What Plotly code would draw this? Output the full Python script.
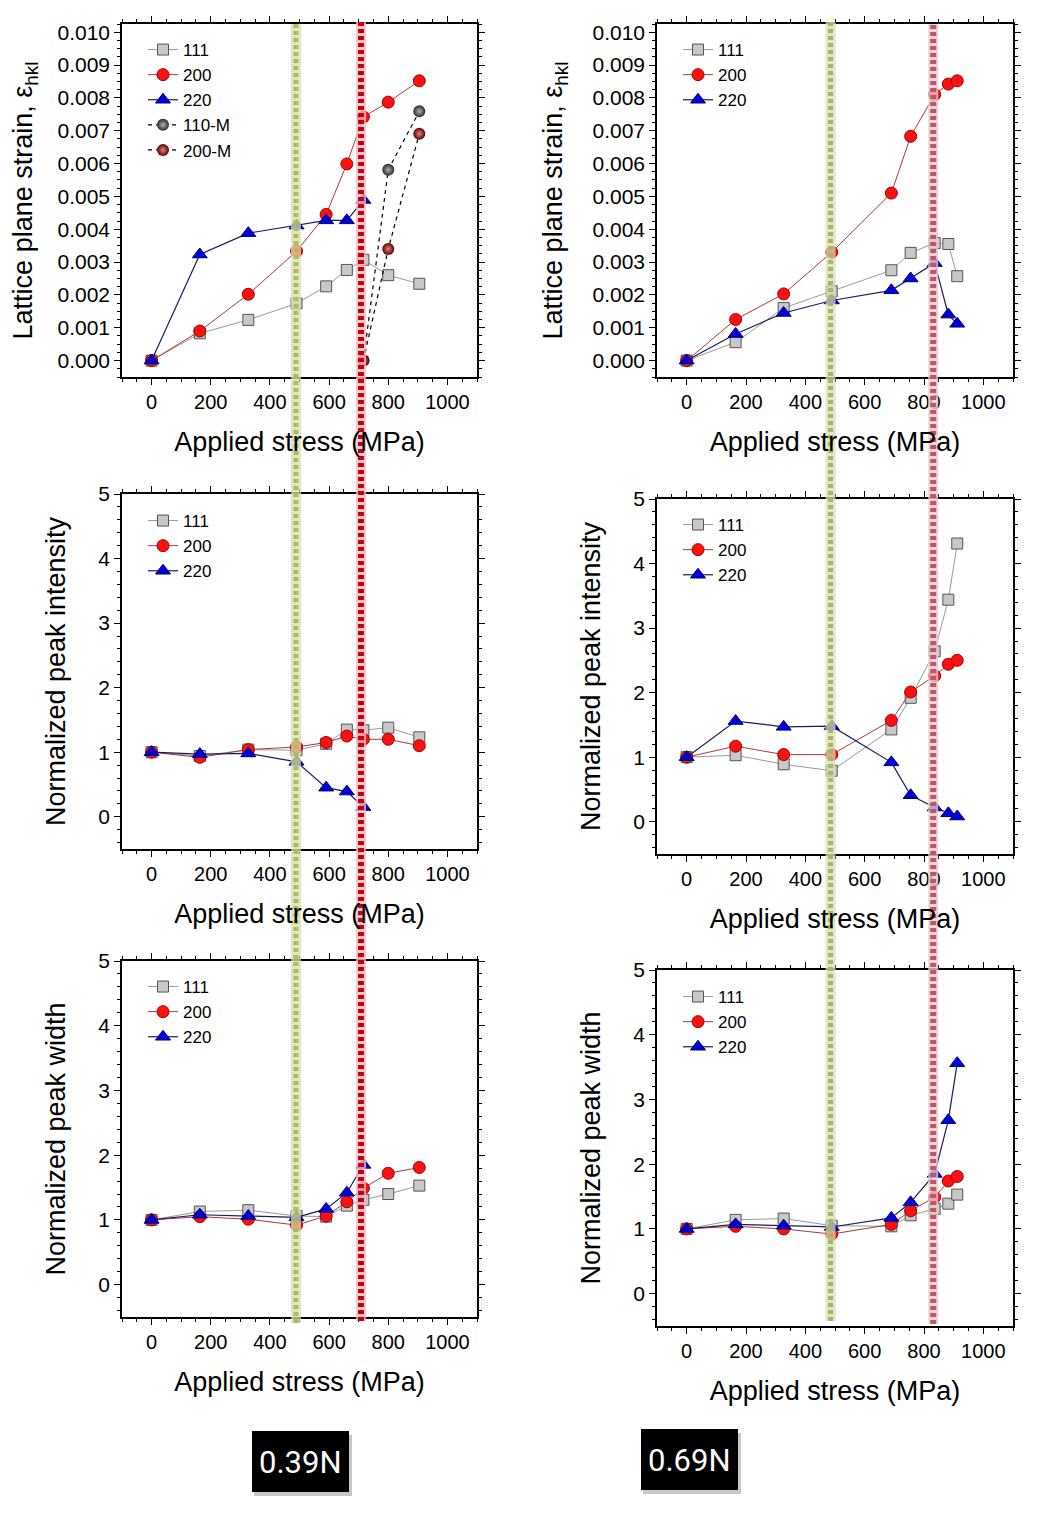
import plotly.graph_objects as go

W, H = 1051, 1520
OFF = 8  # page body margin of the html page (px)

# ---------------- data ----------------
stress_039 = [0, 163, 327, 490, 590, 660, 716, 800, 905]
stress_M_039 = [716, 800, 905]

strain_111_039 = [0, 0.00083, 0.00124, 0.00174, 0.00226, 0.00276, 0.00307, 0.00260, 0.00234]
strain_200_039 = [0, 0.00090, 0.00202, 0.00333, 0.00445, 0.00599, 0.00742, 0.00787, 0.00852]
strain_220_039 = [0, 0.00323, 0.00388, 0.00411, 0.00427, 0.00427, 0.00489]
strain_110M_039 = [0, 0.00581, 0.00759]
strain_200M_039 = [0, 0.00340, 0.00691]

int_111_039 = [1.0, 0.94, 1.04, 1.03, 1.13, 1.35, 1.34, 1.38, 1.23]
int_200_039 = [1.0, 0.92, 1.04, 1.08, 1.15, 1.25, 1.20, 1.20, 1.10]
int_220_039 = [1.0, 0.97, 0.98, 0.85, 0.45, 0.39, 0.15]

wid_111_039 = [1.0, 1.13, 1.15, 1.06, 1.05, 1.22, 1.31, 1.40, 1.53]
wid_200_039 = [1.0, 1.05, 1.01, 0.92, 1.06, 1.28, 1.49, 1.72, 1.81]
wid_220_039 = [1.0, 1.08, 1.06, 1.04, 1.17, 1.42, 1.85]

stress_069 = [0, 165, 327, 489, 690, 755, 836, 882, 912]

strain_111_069 = [0, 0.00056, 0.00160, 0.00211, 0.00275, 0.00328, 0.00358, 0.00355, 0.00257]
strain_200_069 = [0, 0.00125, 0.00203, 0.00330, 0.00510, 0.00683, 0.00810, 0.00842, 0.00852]
strain_220_069 = [0, 0.00081, 0.00145, 0.00183, 0.00214, 0.00250, 0.00297, 0.00140, 0.00112]

int_111_069 = [1.0, 1.03, 0.89, 0.79, 1.43, 1.92, 2.64, 3.44, 4.31]
int_200_069 = [1.0, 1.17, 1.04, 1.04, 1.57, 2.01, 2.26, 2.44, 2.50]
int_220_069 = [1.0, 1.56, 1.47, 1.48, 0.92, 0.41, 0.22, 0.13, 0.08]

wid_111_069 = [1.0, 1.14, 1.16, 1.05, 1.04, 1.21, 1.31, 1.39, 1.53]
wid_200_069 = [1.0, 1.04, 1.00, 0.92, 1.07, 1.28, 1.49, 1.74, 1.81]
wid_220_069 = [1.0, 1.07, 1.05, 1.03, 1.17, 1.41, 1.85, 2.68, 3.56]

guide_039 = [488, 708]   # green, red guide lines (MPa)
guide_069 = [485, 831]
sample_labels = ["0.39N", "0.69N"]
series_names = ["111", "200", "220", "110-M", "200-M"]

FONT = "Liberation Sans, Arial, sans-serif"

# ---------------- styles ----------------
S111 = dict(marker=dict(symbol="square", size=11, color="#c8c8c8", line=dict(color="#555555", width=1)),
            line=dict(color="#9a9a9a", width=1))
S200 = dict(marker=dict(symbol="circle", size=12, color="#ff1010", line=dict(color="#a00000", width=1)),
            line=dict(color="#b03838", width=1))
S220 = dict(marker=dict(symbol="triangle-up", size=13, color="#0000dd", line=dict(color="#000070", width=1)),
            line=dict(color="#1c1c5c", width=1.2))
S110M = dict(marker=dict(symbol="circle", size=12, color="#2a2a2a",
                         gradient=dict(type="radial", color="#b0b0b0"), line=dict(width=0)),
             line=dict(color="black", width=1.2, dash="4px,4px"))
S200M = dict(marker=dict(symbol="circle", size=12, color="#5a0000",
                         gradient=dict(type="radial", color="#e88080"), line=dict(width=0)),
             line=dict(color="black", width=1.2, dash="4px,4px"))

fig = go.Figure()


def add(x, y, name, style, k):
    fig.add_trace(go.Scatter(
        x=x, y=y, name=name, mode="lines+markers",
        xaxis="x" if k == 1 else f"x{k}", yaxis="y" if k == 1 else f"y{k}",
        legend="legend" if k == 1 else f"legend{k}",
        **style))


panels = [
    (1, stress_039, [strain_111_039, strain_200_039, strain_220_039]),
    (2, stress_039, [int_111_039, int_200_039, int_220_039]),
    (3, stress_039, [wid_111_039, wid_200_039, wid_220_039]),
    (4, stress_069, [strain_111_069, strain_200_069, strain_220_069]),
    (5, stress_069, [int_111_069, int_200_069, int_220_069]),
    (6, stress_069, [wid_111_069, wid_200_069, wid_220_069]),
]
for k, xs, (a, b, c) in panels:
    add(xs, a, series_names[0], S111, k)
    add(xs, b, series_names[1], S200, k)
    add(xs[:len(c)], c, series_names[2], S220, k)
    if k == 1:
        add(stress_M_039, strain_110M_039, series_names[3], S110M, k)
        add(stress_M_039, strain_200M_039, series_names[4], S200M, k)


# ---------------- helpers (page pixel -> paper) ----------------
def PX(px):
    return (px - OFF) / W


def PY(py):
    return 1 - (py - OFF) / H


colx = {"L": [PX(122), PX(477)], "R": [PX(657), PX(1013)]}
rows = {1: (24, 377), 2: (494, 849), 3: (961, 1317),
        4: (24, 377), 5: (499, 854), 6: (970, 1326)}

common = dict(showline=True, linecolor="black", linewidth=1.5, mirror="ticks",
              ticks="outside", ticklen=6, tickwidth=1.3, tickcolor="black", automargin=False,
              showgrid=False, zeroline=False)
TFONT = dict(size=27, color="black", family=FONT)

layout = {}
legend_first_center = {1: 50, 2: 521, 3: 987, 4: 50, 5: 525, 6: 997}
for k in range(1, 7):
    xs = "xaxis" if k == 1 else f"xaxis{k}"
    ys = "yaxis" if k == 1 else f"yaxis{k}"
    xa = "x" if k == 1 else f"x{k}"
    ya = "y" if k == 1 else f"y{k}"
    t, b = rows[k]
    layout[xs] = dict(common, domain=colx["L" if k <= 3 else "R"], anchor=ya,
                      range=[-100, 1100], tick0=0, dtick=200,
                      tickfont=dict(size=20, color="black", family=FONT),
                      minor=dict(dtick=50, ticks="outside", ticklen=3, tickwidth=1, tickcolor="black"),
                      title=dict(text="Applied stress (MPa)", standoff=20, font=TFONT))
    if k in (1, 4):
        ydict = dict(range=[-0.0005, 0.01025], tick0=0, dtick=0.001, tickformat=".3f",
                     minor=dict(dtick=0.00025, ticks="outside", ticklen=3, tickwidth=1, tickcolor="black"),
                     title=dict(text="Lattice plane strain, \u03b5<sub>hkl</sub>", standoff=22, font=TFONT))
    else:
        ttl = "Normalized peak intensity" if k in (2, 5) else "Normalized peak width"
        ydict = dict(range=[-0.5, 5], tick0=0, dtick=1,
                     minor=dict(dtick=0.2, ticks="outside", ticklen=3, tickwidth=1, tickcolor="black"),
                     title=dict(text=ttl, standoff=25, font=TFONT))
    layout[ys] = dict(common, domain=[PY(b), PY(t)], anchor=xa,
                      tickfont=dict(size=21, color="black", family=FONT), **ydict)

    lg = "legend" if k == 1 else f"legend{k}"
    left = 143 if k <= 3 else 678
    layout[lg] = dict(x=PX(left), y=PY(legend_first_center[k] - 18), xanchor="left", yanchor="top",
                      bgcolor="rgba(0,0,0,0)", borderwidth=0, tracegroupgap=0,
                      font=dict(size=17, color="black", family=FONT))

# ---------------- guide lines ----------------
shapes = []


def guide(xref, xv, dot, halo, wh, wd, top, bottom):
    for col, wdt, dash in ((halo, wh, "solid"), (dot, wd, "4px,3px")):
        shapes.append(dict(type="line", xref=xref, yref="paper", x0=xv, x1=xv,
                           y0=PY(bottom), y1=PY(top), layer="above",
                           line=dict(color=col, width=wdt, dash=dash)))


guide("x", guide_039[0], "#aebb66", "rgba(215,222,170,0.75)", 10, 5, 24, 1323)
guide("x", guide_039[1], "#c20018", "rgba(245,185,190,0.8)", 10, 6, 22, 1321)
guide("x4", guide_069[0], "#a9b46e", "rgba(215,222,175,0.75)", 10, 5, 22, 1321)
guide("x4", guide_069[1], "#b8586a", "rgba(235,200,205,0.8)", 10, 6, 24, 1324)

# ---------------- sample label boxes ----------------
annotations = []
for lab, (x0, y0) in zip(sample_labels, [(252, 1431), (641, 1429)]):
    shapes.append(dict(type="rect", xref="paper", yref="paper", layer="above",
                       x0=PX(x0 + 2), x1=PX(x0 + 100), y0=PY(y0 + 65), y1=PY(y0 + 4),
                       fillcolor="rgba(0,0,0,0.22)", line=dict(width=0)))
    shapes.append(dict(type="rect", xref="paper", yref="paper", layer="above",
                       x0=PX(x0), x1=PX(x0 + 97), y0=PY(y0 + 61), y1=PY(y0),
                       fillcolor="black", line=dict(width=0)))
    annotations.append(dict(text=lab, xref="paper", yref="paper", showarrow=False,
                            x=PX(x0 + 48.5), y=PY(y0 + 31), xanchor="center", yanchor="middle",
                            font=dict(size=31, color="white", family="Roboto, sans-serif")))

fig.update_layout(width=W, height=H, margin=dict(l=0, r=0, t=0, b=0, autoexpand=False),
                  paper_bgcolor="white", plot_bgcolor="white",
                  font=dict(family=FONT, color="black"),
                  shapes=shapes, annotations=annotations, **layout)

fig.write_html("out.html")
